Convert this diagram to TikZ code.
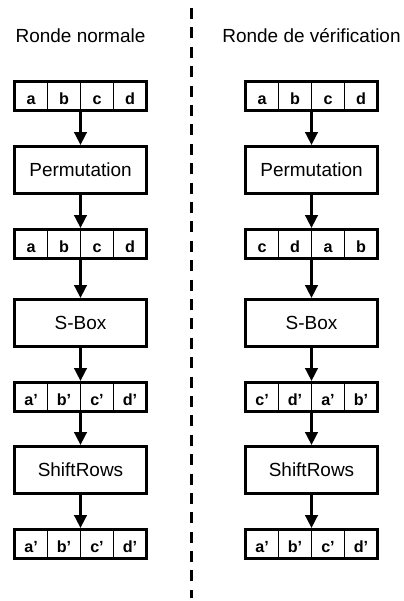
\documentclass[tikz,border=0pt]{standalone}
\usepackage{fontspec}
\setmainfont{Liberation Sans}
\usepackage{tikz}
\usetikzlibrary{arrows.meta}

\begin{document}
\begin{tikzpicture}[x=0.02cm, y=-0.02cm,
	every node/.style={font=\fontsize{10.8}{13}\selectfont},
	rowbox/.style={draw, line width=0.06cm, minimum width=2.64cm, minimum height=0.58cm, inner sep=0pt},
	opbox/.style={draw, line width=0.06cm, minimum width=2.64cm, minimum height=0.94cm, inner sep=0pt},
	cell/.style={anchor=base, inner sep=0pt, font=\bfseries\fontsize{9.2}{11}\selectfont},
	divider/.style={line width=0.025cm},
	link/.style={line width=0.055cm, -{Triangle[width=0.25cm,length=0.26cm]}}]
	\useasboundingbox (0,0) rectangle (403,601);
	% separator
	\draw[line width=0.06cm, dash pattern=on 0.22cm off 0.168cm] (191.3,8) -- (191.3,598);
	% titles
	\node[anchor=base] (tN) at (80.5,43) {Ronde normale};
	\node[anchor=base] (tV) at (311.5,43) {Ronde de vérification};
	% the two columns
	\foreach \c/\x in {n/80.5, v/311.5} {
		\node[rowbox] (\c R1) at (\x,96) {};
		\node[opbox] (\c P) at (\x,170) {Permutation};
		\node[rowbox] (\c R2) at (\x,244) {};
		\node[opbox] (\c S) at (\x,323) {S-Box};
		\node[rowbox] (\c R3) at (\x,397) {};
		\node[opbox] (\c F) at (\x,470) {ShiftRows};
		\node[rowbox] (\c R4) at (\x,544) {};
		\foreach \a/\b in {R1/P, P/R2, R2/S, S/R3, R3/F, F/R4}
			\draw[link] (\c\a) -- (\c\b);
	}
	% cells of the rows
	\foreach \r/\l in {nR1/{a,b,c,d}, nR2/{a,b,c,d}, nR3/{a',b',c',d'}, nR4/{a',b',c',d'},
		vR1/{a,b,c,d}, vR2/{c,d,a,b}, vR3/{c',d',a',b'}, vR4/{a',b',c',d'}} {
		\foreach \k in {-1,0,1}
			\draw[divider] ([xshift=\k*0.66cm]\r.north) -- ([xshift=\k*0.66cm]\r.south);
		\foreach \t [count=\i] in \l
			\node[cell] (\r c\i) at ([xshift=(\i-2.5)*0.66cm, yshift=-0.17cm]\r.center) {\t};
	}
\end{tikzpicture}
\end{document}
